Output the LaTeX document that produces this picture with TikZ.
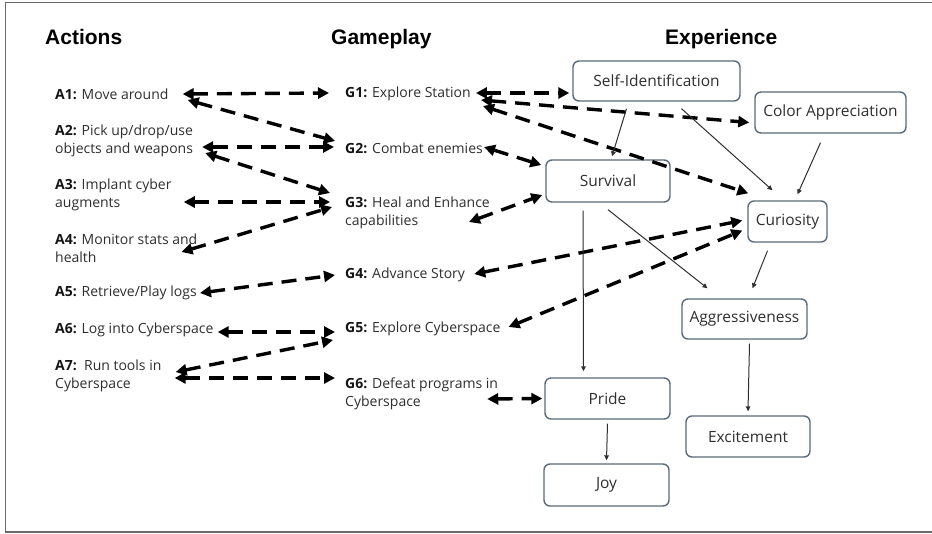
\documentclass[tikz,border=0pt]{standalone}
\usepackage{fontspec}
\setmainfont{Open Sans}
\newfontfamily\headfont{Liberation Sans}
\usetikzlibrary{arrows.meta,calc}
\definecolor{txt}{HTML}{2E2E2E}
\definecolor{boldc}{HTML}{151515}
\definecolor{boxc}{HTML}{5A6A7A}
\definecolor{framec}{HTML}{6A6A6A}
\newcommand{\lab}[1]{\textbf{\textcolor{boldc}{#1}}}
\begin{document}
\begin{tikzpicture}[x=1pt,y=-1pt,
  lbl/.style={anchor=west, inner sep=0pt, align=left, font=\fontsize{14}{18}\selectfont, text=txt},
  hdr/.style={anchor=base west, inner sep=0pt, font=\headfont\bfseries\fontsize{21}{25}\selectfont, text=black},
  ebox/.style={draw=boxc, line width=1.4pt, rounded corners=6pt, inner sep=0pt, font=\fontsize{15.5}{18}\selectfont, text=txt},
  dar/.style={line width=3.4pt, dash pattern=on 15pt off 9pt, {Triangle[length=11pt,width=11pt]}-{Triangle[length=11pt,width=11pt]}},
  thinarr/.style={line width=1pt, draw=txt, -{Triangle[length=5pt,width=4.5pt]}}]
\useasboundingbox (0,0) rectangle (932,533);
\draw[framec, line width=1.5pt] (932,2.5) -- (5.5,2.5) -- (5.5,532) -- (932,532);

% headers
\node[hdr] (hA) at (45,44) {Actions};
\node[hdr] (hG) at (331,44) {Gameplay};
\node[hdr] (hE) at (665,44) {Experience};

% actions
\node[lbl] (A1) at (55,94) {\lab{A1:} Move around};
\node[lbl] (A2) at (55,141) {\lab{A2:} Pick up/drop/use\\objects and weapons};
\node[lbl] (A3) at (55,195) {\lab{A3:} Implant cyber\\augments};
\node[lbl] (A4) at (55,248) {\lab{A4:} Monitor stats and\\health};
\node[lbl] (A5) at (55,293) {\lab{A5:} Retrieve/Play logs};
\node[lbl] (A6) at (55,330) {\lab{A6:} Log into Cyberspace};
\node[lbl] (A7) at (55,376) {\lab{A7:}\ \ Run tools in\\Cyberspace};

% gameplay
\node[lbl] (G1) at (345,94) {\lab{G1:} Explore Station};
\node[lbl] (G2) at (345,148) {\lab{G2:} Combat enemies};
\node[lbl] (G3) at (345,213) {\lab{G3:} Heal and Enhance\\capabilities};
\node[lbl] (G4) at (345,275) {\lab{G4:} Advance Story};
\node[lbl] (G5) at (345,329) {\lab{G5:} Explore Cyberspace};
\node[lbl] (G6) at (345,394) {\lab{G6:} Defeat programs in\\Cyberspace};

% experience
\node[ebox, minimum width=167pt, minimum height=40pt] (SI) at (656.5,81) {Self-Identification};
\node[ebox, minimum width=151pt, minimum height=41pt] (CA) at (830.5,112.5) {Color Appreciation};
\node[ebox, minimum width=124pt, minimum height=42pt] (SU) at (608,181) {Survival};
\node[ebox, minimum width=79pt, minimum height=41pt] (CU) at (787.5,221.5) {Curiosity};
\node[ebox, minimum width=125pt, minimum height=40pt] (AG) at (744.5,319) {Aggressiveness};
\node[ebox, minimum width=125pt, minimum height=41pt] (PR) at (607.5,398.5) {Pride};
\node[ebox, minimum width=124pt, minimum height=41pt] (EX) at (748,436.5) {Excitement};
\node[ebox, minimum width=125pt, minimum height=42pt] (JO) at (606.5,485) {Joy};

% dashed double arrows: actions - gameplay
\draw[dar] ($(A1.east)+(14,0)$) -- ($(G1.west)+(-16,-1)$);
\draw[dar] ($(A1.east)+(19,6)$) -- ($(G2.west)+(-10,-7)$);
\draw[dar] ($(A2.east)+(9,6)$) -- ($(G2.west)+(-11,-1)$);
\draw[dar] ($(A2.east)+(12,12)$) -- ($(G3.west)+(-15,-20)$);
\draw[dar] ($(A3.east)+(12,7)$) -- ($(G3.west)+(-15,-11)$);
\draw[dar] ($(A4.east)+(-16,4)$) -- ($(G3.west)+(-13,-6)$);
\draw[dar] ($(A5.east)+(3,0)$) -- ($(G4.west)+(-10,0)$);
\draw[dar] ($(A6.east)+(4,2)$) -- ($(G5.west)+(-10,3)$);
\draw[dar] ($(A7.east)+(14,-4)$) -- ($(G5.west)+(-12,11)$);
\draw[dar] ($(A7.east)+(13,2)$) -- ($(G6.west)+(-10,-16)$);

% dashed double arrows: gameplay - experience
\draw[dar] ($(G1.east)+(5,-1)$) -- ($(SI.west)+(-3,12)$);
\draw[dar] ($(G1.east)+(10,6)$) -- ($(CA.west)+(-5,10)$);
\draw[dar] ($(G1.east)+(12,12)$) -- ($(CU.north west)+(1,-7)$);
\draw[dar] ($(G2.east)+(1,-1)$) -- ($(SU.west)+(-4,-16)$);
\draw[dar] ($(G3.east)+(-21,9)$) -- ($(SU.west)+(-3,14)$);
\draw[dar] ($(G4.east)+(9,-1)$) -- ($(CU.west)+(-5,-1)$);
\draw[dar] ($(G5.east)+(8,-2)$) -- ($(CU.west)+(-5,9)$);
\draw[dar] ($(G6.east)+(-11,5)$) -- ($(PR.west)+(-2,0)$);

% thin arrows among experience
\draw[thinarr] ($(SI.south)+(-30,7)$) -- ($(SU.north)+(4,-3)$);
\draw[thinarr] ($(SI.south)+(25,7)$) -- ($(CU.north)+(-15,-10)$);
\draw[thinarr] ($(CA.south)+(-10,9)$) -- ($(CU.north)+(10,-6)$);
\draw[thinarr] ($(SU.south)+(0,7)$) -- ($(AG.north)+(-37,-10)$);
\draw[thinarr] ($(SU.south)+(-25,8)$) -- ($(PR.north)+(-24,-6)$);
\draw[thinarr] ($(CU.south)+(-20,8)$) -- ($(AG.north)+(8,-10)$);
\draw[thinarr] ($(AG.south)+(5,4)$) -- ($(EX.north)+(0,-4)$);
\draw[thinarr] ($(PR.south)+(0,4)$) -- ($(JO.north)+(0,-3)$);
\end{tikzpicture}
\end{document}
